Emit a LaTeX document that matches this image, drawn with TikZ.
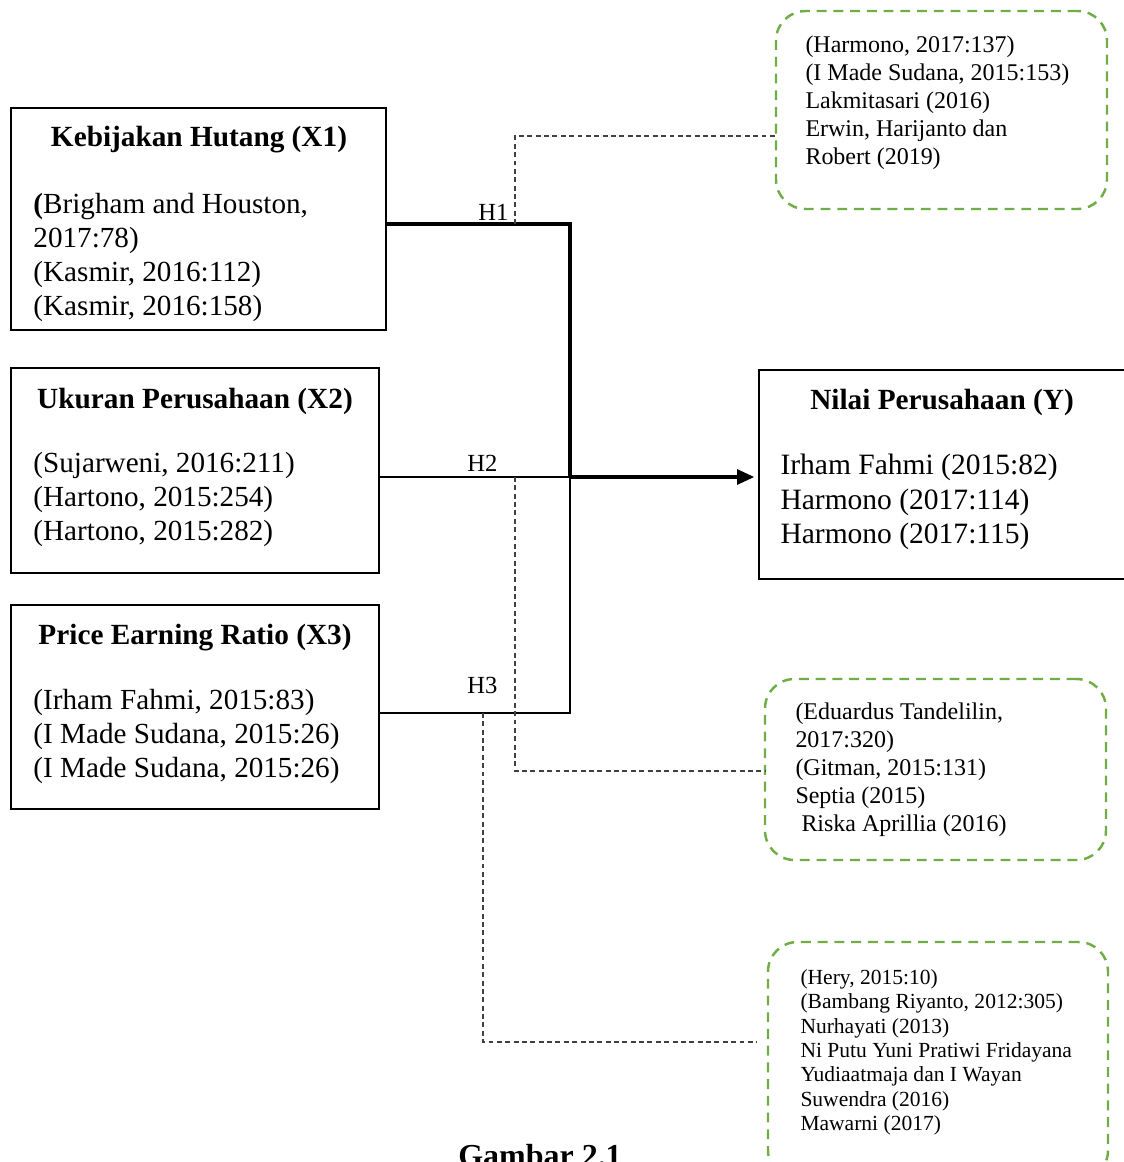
\documentclass[tikz,border=0pt]{standalone}
\usepackage{fontspec}
\setmainfont{Liberation Serif}
\usetikzlibrary{fit,arrows.meta}
\definecolor{gr}{HTML}{70AD47}
\definecolor{dk}{HTML}{404040}
\begin{document}
\begin{tikzpicture}[x=0.4065pt,y=-0.4065pt,
  mbox/.style={draw=black,line width=0.6pt,inner sep=0pt},
  gbox/.style={draw=gr,line width=1pt,dash pattern=on 4pt off 2.8pt,rounded corners=12pt,inner sep=0pt},
  ttl/.style={font=\fontsize{11.9}{13.8}\selectfont\bfseries,anchor=base,inner sep=0pt},
  body/.style={font=\fontsize{11.85}{13.8}\selectfont,anchor=north west,align=left,inner sep=0pt},
  ybody/.style={font=\fontsize{12}{14}\selectfont,anchor=north west,align=left,inner sep=0pt},
  gtxt/.style={font=\fontsize{9.75}{11.3}\selectfont,anchor=north west,align=left,inner sep=0pt},
  stxt/.style={font=\fontsize{8.75}{9.9}\selectfont,anchor=north west,align=left,inner sep=0pt},
  hlab/.style={font=\fontsize{10}{12}\selectfont,anchor=base east,inner sep=0pt},
  thk/.style={line width=1.4pt},
  thn/.style={line width=0.5pt},
  dsh/.style={draw=dk,line width=0.45pt,dash pattern=on 2pt off 1.4pt}]
\useasboundingbox (0,0) rectangle (1124,1162);
\clip (0,0) rectangle (1124,1162);
% main boxes
\node[mbox,fit={(11,108)(386,330)}] (x1) {};
\node[mbox,fit={(11,368)(379,573)}] (x2) {};
\node[mbox,fit={(11,605)(379,809)}] (x3) {};
\node[mbox,fit={(759,370)(1140,579)}] (y) {};
% green boxes
\node[gbox,fit={(776,11)(1107,209)}] (g1) {};
\node[gbox,fit={(765,679)(1106,860)}] (g2) {};
\node[gbox,fit={(768,942)(1108,1180)}] (g3) {};
% titles
\node[ttl] (t1) at (199,147) {Kebijakan Hutang (X1)};
\node[ttl] (t2) at (195,408) {Ukuran Perusahaan (X2)};
\node[ttl] (t3) at (195,644) {Price Earning Ratio (X3)};
\node[ttl] (ty) at (942,409) {Nilai Perusahaan (Y)};
% bodies
\node[body] (b1) at (33,189) {\strut\textbf{(}Brigham and Houston,\\2017:78)\\(Kasmir, 2016:112)\\(Kasmir, 2016:158)};
\node[body] (b2) at (33,448) {\strut(Sujarweni, 2016:211)\\(Hartono, 2015:254)\\(Hartono, 2015:282)};
\node[body] (b3) at (33,685) {\strut(Irham Fahmi, 2015:83)\\(I Made Sudana, 2015:26)\\(I Made Sudana, 2015:26)};
\node[ybody] (by) at (780,450) {\strut Irham Fahmi (2015:82)\\Harmono (2017:114)\\Harmono (2017:115)};
\node[gtxt] (c1) at (805,33) {\strut(Harmono, 2017:137)\\(I Made Sudana, 2015:153)\\Lakmitasari (2016)\\Erwin, Harijanto dan\\Robert (2019)};
\node[gtxt] (c2) at (795,700) {\strut(Eduardus Tandelilin,\\2017:320)\\(Gitman, 2015:131)\\Septia (2015)\\\ Riska Aprillia (2016)};
\node[stxt] (c3) at (800,967) {\strut(Hery, 2015:10)\\(Bambang Riyanto, 2012:305)\\Nurhayati (2013)\\Ni Putu Yuni Pratiwi Fridayana\\Yudiaatmaja dan I Wayan\\Suwendra (2016)\\Mawarni (2017)};
% junctions
\coordinate (j) at (570,477);
\coordinate (j1) at (570,224);
\coordinate (j3) at (570,713);
\coordinate (h1) at (515,224);
\coordinate (h2) at (515,477);
\coordinate (h3) at (483,713);
\coordinate (e1) at (776,136);
\coordinate (e2) at (765,771);
\coordinate (e3) at (757,1042);
% connectors
\draw[thk] (x1.east |- j1) -- (j1) -- (j);
\draw[thn] (x2.east |- j) -- (j);
\draw[thn] (x3.east |- j3) -- (j3) -- (j);
\draw[thk,-{Triangle[length=7pt,width=6pt]},shorten >=1.6pt] (j) -- (y.west |- j);
\draw[dsh] (h1) |- (e1);
\draw[dsh] (h2) |- (e2);
\draw[dsh] (h3) |- (e3);
% labels
\node[hlab] (l1) at (509,221) {H1};
\node[hlab] (l2) at (498,471) {H2};
\node[hlab] (l3) at (498,693) {H3};
\node[font=\fontsize{13}{15}\selectfont\bfseries,anchor=base,inner sep=0pt] (cap) at (540,1166) {Gambar 2.1};
\end{tikzpicture}
\end{document}
